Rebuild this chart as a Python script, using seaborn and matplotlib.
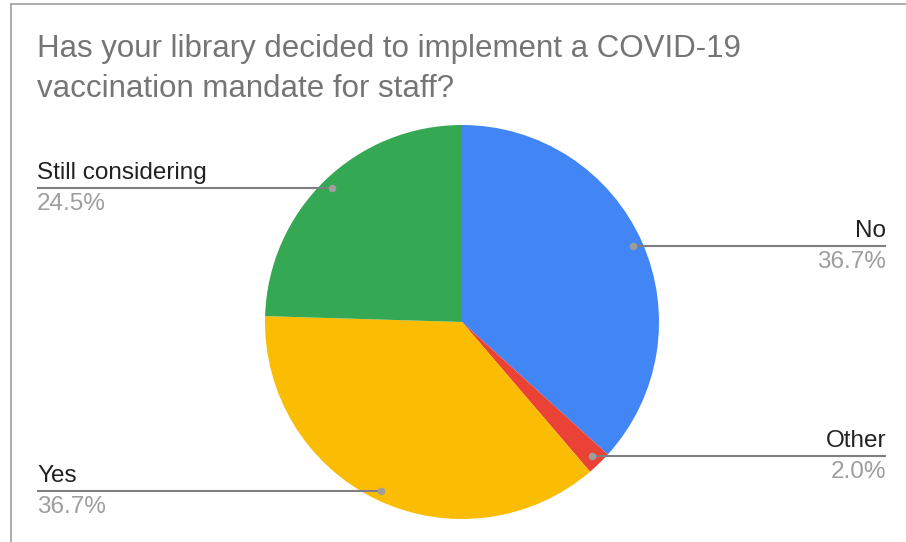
import numpy as np
import matplotlib
matplotlib.use("Agg")
import matplotlib.pyplot as plt
import seaborn as sns

# data
labels = ["No", "Other", "Yes", "Still considering"]
shares = [36.7, 2.0, 36.7, 24.5]
pct_labels = ["36.7%", "2.0%", "36.7%", "24.5%"]
colors = ["#4285F4", "#EA4335", "#FBBC04", "#34A853"]
title = "Has your library decided to implement a COVID-19\nvaccination mandate for staff?"

sns.set_theme(style="white")
plt.rcParams["font.family"] = ["Liberation Sans", "DejaVu Sans"]

W, H = 906, 542
fig = plt.figure(figsize=(W / 100, H / 100), dpi=100)
ax = fig.add_axes([0, 0, 1, 1])

# pie (pixel coordinates, y measured from bottom)
cx, cy, R = 462, H - 322, 197
wedges, _ = ax.pie(shares, colors=colors, startangle=90, counterclock=False,
                   center=(cx, cy), radius=R, frame=True,
                   wedgeprops=dict(linewidth=0))
ax.set_xlim(0, W)
ax.set_ylim(0, H)
ax.axis("off")

# leader lines and labels
for w, name, pct in zip(wedges, labels, pct_labels):
    mid = np.deg2rad((w.theta1 + w.theta2) / 2)
    px = cx + 0.95 * R * np.cos(mid)
    py = cy + 0.95 * R * np.sin(mid)
    if np.cos(mid) >= 0:
        ex, ha = 886, "right"
    else:
        ex, ha = 37, "left"
    ax.plot([px, ex], [py, py], color="#7f7f7f", lw=1.5, solid_capstyle="butt", zorder=3)
    ax.scatter([px], [py], s=30, color="#9e9e9e", zorder=4, linewidths=0)
    ax.text(ex, py + 4, name, ha=ha, va="bottom", fontsize=17.5, color="#222222")
    ax.text(ex, py - 5, pct, ha=ha, va="top", fontsize=17.5, color="#9e9e9e")

# title
ax.text(37, H - 69, title, ha="left", va="center", fontsize=22.5,
        color="#757575", linespacing=1.43)

# frame lines of the chart box
ax.plot([10.5, W], [H - 4, H - 4], color="#9e9e9e", lw=1.2, clip_on=False)
ax.plot([10.5, 10.5], [0, H - 4], color="#9e9e9e", lw=1.2, clip_on=False)

fig.savefig("out.png", dpi=100)
